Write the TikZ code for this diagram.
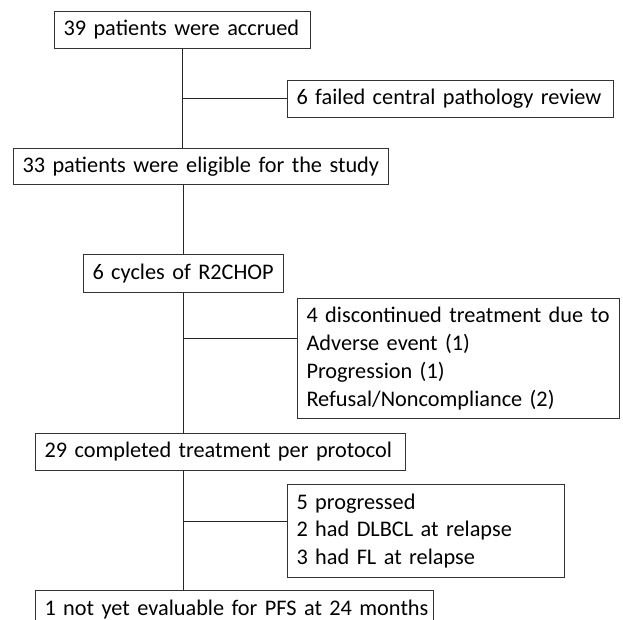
\documentclass[tikz,border=0pt]{standalone}
\usepackage{fontspec}
\setmainfont{Carlito}
\usetikzlibrary{calc}
\tikzset{
  box/.style={draw=black!80, line width=1pt, anchor=north west, align=left,
    inner xsep=9pt, inner ysep=0pt, font=\fontsize{22.3}{27.9}\selectfont},
  link/.style={draw=black!85, line width=1pt},
}
\newcommand{\bx}[6]{% name, x, y, w, h, text
  \node[box, minimum width=#4pt, minimum height=#5pt, text width=#4pt-18pt] (#1) at (#2,#3) {#6};}
\begin{document}
\begin{tikzpicture}[x=1pt,y=-1pt]
\useasboundingbox (0,0) rectangle (623,620);
\clip (0,0) rectangle (623,620);
\bx{b1}{54}{11}{256}{37}{\mbox{39 patients were accrued}}
\bx{b2}{287}{80}{326}{37}{\mbox{6 failed central pathology review}}
\bx{b3}{13}{148}{375}{36}{\mbox{33 patients were eligible for the study}}
\bx{b4}{83}{254}{200}{38}{\mbox{6 cycles of R2CHOP}}
\bx{b5}{297}{298}{322}{120}{\mbox{4 discontinued treatment due to}\\\mbox{Adverse event (1)}\\\mbox{Progression (1)}\\\mbox{Refusal/Noncompliance (2)}}
\bx{b6}{35}{433}{370}{37}{\mbox{29 completed treatment per protocol}}
\bx{b7}{287}{484}{277}{93}{\mbox{5 progressed}\\\mbox{2 had DLBCL at relapse}\\\mbox{3 had FL at relapse}}
\bx{b8}{35}{590}{398}{38}{\mbox{1 not yet evaluable for PFS at 24 months}}
% connectors
\draw[link] (b1.south) -- (b1.south |- b3.north);
\draw[link] (b1.south |- b2.west) -- (b2.west);
\draw[link] (b4.north |- b3.south) -- (b4.north);
\draw[link] (b4.south) -- (b4.south |- b6.north);
\coordinate (j5) at ($(b5.north west)!0.333!(b5.south west)$);
\draw[link] (b4.south |- j5) -- (j5);
\draw[link] (b4.south |- b6.south) -- (b4.south |- b8.north);
\coordinate (j7) at ($(b7.north west)!0.4!(b7.south west)$);
\draw[link] (b4.south |- j7) -- (j7);
\end{tikzpicture}
\end{document}
